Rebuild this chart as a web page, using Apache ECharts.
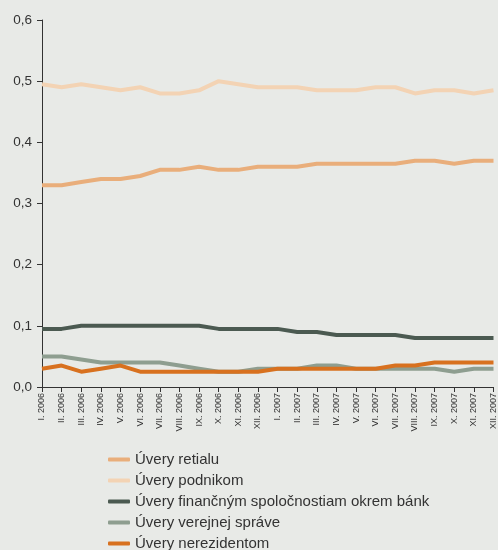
<!DOCTYPE html>
<html>
<head>
<meta charset="utf-8">
<script src="https://cdn.jsdelivr.net/npm/echarts@6/dist/echarts.min.js"></script>
<style>
  html, body { margin: 0; padding: 0; background: #e8eae7; }
  #chart { width: 498px; height: 550px; }
</style>
</head>
<body>
<div id="chart"></div>
<script>
// Monthly categories, Jan 2006 – Dec 2007
const months = ['I.', 'II.', 'III.', 'IV.', 'V.', 'VI.', 'VII.', 'VIII.', 'IX.', 'X.', 'XI.', 'XII.'];
const categories = [];
[2006, 2007].forEach(y => months.forEach(m => categories.push(m + ' ' + y)));

const uveryRetailu = [0.33, 0.33, 0.335, 0.34, 0.34, 0.345, 0.355, 0.355, 0.36, 0.355, 0.355, 0.36,
                      0.36, 0.36, 0.365, 0.365, 0.365, 0.365, 0.365, 0.37, 0.37, 0.365, 0.37, 0.37];
const uveryPodnikom = [0.495, 0.49, 0.495, 0.49, 0.485, 0.49, 0.48, 0.48, 0.485, 0.50, 0.495, 0.49,
                       0.49, 0.49, 0.485, 0.485, 0.485, 0.49, 0.49, 0.48, 0.485, 0.485, 0.48, 0.485];
const uveryFinancnym = [0.095, 0.095, 0.10, 0.10, 0.10, 0.10, 0.10, 0.10, 0.10, 0.095, 0.095, 0.095,
                        0.095, 0.09, 0.09, 0.085, 0.085, 0.085, 0.085, 0.08, 0.08, 0.08, 0.08, 0.08];
const uveryVerejnej = [0.05, 0.05, 0.045, 0.04, 0.04, 0.04, 0.04, 0.035, 0.03, 0.025, 0.025, 0.03,
                       0.03, 0.03, 0.035, 0.035, 0.03, 0.03, 0.03, 0.03, 0.03, 0.025, 0.03, 0.03];
const uveryNerezidentom = [0.03, 0.035, 0.025, 0.03, 0.035, 0.025, 0.025, 0.025, 0.025, 0.025, 0.025, 0.025,
                           0.03, 0.03, 0.03, 0.03, 0.03, 0.03, 0.035, 0.035, 0.04, 0.04, 0.04, 0.04];

const seriesNames = ['Úvery retialu', 'Úvery podnikom', 'Úvery finančným spoločnostiam okrem bánk',
                     'Úvery verejnej správe', 'Úvery nerezidentom'];
const seriesData = [uveryRetailu, uveryPodnikom, uveryFinancnym, uveryVerejnej, uveryNerezidentom];
const colors = ['#e9ae7b', '#f3d3b4', '#4b5a51', '#8e9e90', '#d8711f'];

const font = '"Liberation Sans", Arial, sans-serif';
const chart = echarts.init(document.getElementById('chart'));

// one legend row per series, stacked vertically under the plot
const legends = seriesNames.map((name, i) => ({
  orient: 'vertical',
  left: 108,
  top: 452 + i * 21,
  padding: 0,
  itemWidth: 22,
  itemHeight: 4,
  icon: 'roundRect',
  textStyle: { fontFamily: font, fontSize: 15, color: '#333', lineHeight: 14 },
  data: [name]
}));

chart.setOption({
  backgroundColor: '#e8eae7',
  animation: false,
  color: colors,
  grid: { left: 42, right: 3, top: 20, bottom: 163, containLabel: false },
  legend: legends,
  xAxis: {
    type: 'category',
    data: categories,
    boundaryGap: false,
    axisLine: { lineStyle: { color: '#333', width: 1 } },
    axisTick: { show: true, length: 5, alignWithLabel: true, lineStyle: { color: '#333' } },
    axisLabel: {
      interval: 0,
      rotate: 90,
      fontFamily: font,
      fontSize: 9,
      color: '#333',
      margin: 6
    }
  },
  yAxis: {
    type: 'value',
    min: 0,
    max: 0.6,
    interval: 0.1,
    axisLine: { show: true, lineStyle: { color: '#333', width: 1 } },
    axisTick: { show: true, length: 5, lineStyle: { color: '#333' } },
    splitLine: { show: false },
    axisLabel: {
      fontFamily: font,
      fontSize: 13.5,
      color: '#333',
      margin: 10,
      formatter: v => v.toFixed(1).replace('.', ',')
    }
  },
  series: seriesNames.map((name, i) => ({
    name: name,
    type: 'line',
    data: seriesData[i],
    symbol: 'none',
    lineStyle: { width: 4, color: colors[i] },
    itemStyle: { color: colors[i] }
  }))
});
</script>
</body>
</html>
